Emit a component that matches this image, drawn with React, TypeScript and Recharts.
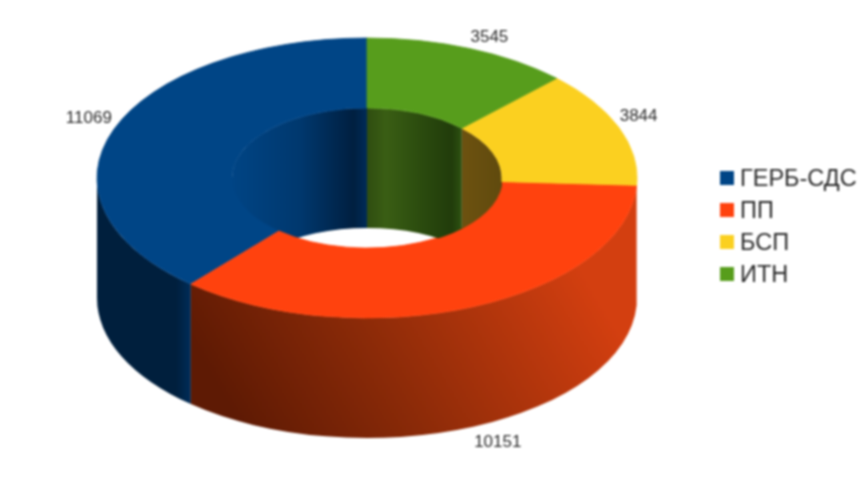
import React from "react";
import { PieChart, Pie, Legend } from "recharts";

const parties = ["ГЕРБ-СДС", "ПП", "БСП", "ИТН"];
const votes = [11069, 10151, 3844, 3545];
const colors = ["#004586", "#ff420e", "#fbd020", "#579d1c"];

const data = parties.map((name, i) => ({ name, value: votes[i], fill: colors[i], index: i }));

const SQUASH = 140 / 270; // the flat disc is seen at an angle
const DEPTH = 120;

const overlap = (a: number, b: number, from: number, to: number) => {
  const s = Math.max(a, from);
  const e = Math.min(b, to);
  return e > s ? [s, e] : null;
};

const Sector3D = (props: any) => {
  const { cx, cy, innerRadius, outerRadius, startAngle, endAngle, fill, index } = props;
  const pt = (r: number, deg: number, dy = 0) => {
    const rad = (deg * Math.PI) / 180;
    return `${cx + r * Math.cos(rad)} ${cy - r * SQUASH * Math.sin(rad) + dy}`;
  };
  const wall = (r: number, a: number, b: number) => {
    const large = b - a > 180 ? 1 : 0;
    const ry = r * SQUASH;
    return `M${pt(r, a)} A${r} ${ry} 0 ${large} 0 ${pt(r, b)} L${pt(r, b, DEPTH)} A${r} ${ry} 0 ${large} 1 ${pt(r, a, DEPTH)} Z`;
  };
  const large = endAngle - startAngle > 180 ? 1 : 0;
  const top =
    `M${pt(outerRadius, startAngle)} A${outerRadius} ${outerRadius * SQUASH} 0 ${large} 0 ${pt(outerRadius, endAngle)} ` +
    `L${pt(innerRadius, endAngle)} A${innerRadius} ${innerRadius * SQUASH} 0 ${large} 1 ${pt(innerRadius, startAngle)} Z`;

  // outer wall shows on the front half, inner wall on the back half of the hole
  const outer = overlap(startAngle, endAngle, 180, 360);
  const inners = [overlap(startAngle, endAngle, 0, 180), overlap(startAngle, endAngle, 360, 540)].filter(Boolean) as number[][];

  return (
    <g>
      <clipPath id={`hole-${index}`}>
        <ellipse cx={cx} cy={cy} rx={innerRadius + 1} ry={innerRadius * SQUASH + 1} />
      </clipPath>
      {outer && <path d={wall(outerRadius, outer[0], outer[1])} fill={`url(#outer-${index})`} />}
      <g clipPath={`url(#hole-${index})`}>
        {inners.map((r) => (
          <path key={r[0]} d={wall(innerRadius, r[0], r[1])} fill={`url(#inner-${index})`} />
        ))}
      </g>
      {/* thin stroke closes the seams between faces */}
      <path d={top} fill={fill} stroke={fill} strokeWidth={0.8} />
    </g>
  );
};

const renderLabel = (props: any) => {
  const { cx, cy, midAngle, outerRadius, value } = props;
  const rad = (midAngle * Math.PI) / 180;
  const x = cx + outerRadius * Math.cos(rad);
  let y = cy - outerRadius * SQUASH * Math.sin(rad);
  y += Math.sin(rad) < 0 ? DEPTH + 20 : -6;
  return (
    <text x={x + (Math.cos(rad) > 0 ? 1 : -2)} y={y} fontSize={17} fill="#2a2a2a" textAnchor={Math.cos(rad) > 0 ? "start" : "end"}>
      {value}
    </text>
  );
};

const renderLegend = (props: any) => (
  <div>
    {props.payload.map((p: any) => (
      <div key={p.value} style={{ display: "flex", alignItems: "center", height: 32 }}>
        <span style={{ width: 14, height: 14, background: p.color, marginRight: 6 }} />
        <span style={{ fontSize: 23.5, color: "#2a2a2a", whiteSpace: "nowrap" }}>{p.value}</span>
      </div>
    ))}
  </div>
);

export default function App() {
  return (
    <div style={{ position: "absolute", left: 0, top: 0, width: 860, height: 480, filter: "blur(0.8px)", fontFamily: "'Liberation Sans', Arial, sans-serif" }}>
      <PieChart width={860} height={480} margin={{ top: 0, right: 0, bottom: 0, left: 0 }}>
        <defs>
          <linearGradient id="outer-0" gradientUnits="userSpaceOnUse" x1="97" y1="0" x2="190" y2="0">
            <stop offset="0" stopColor="#001f3d" />
            <stop offset="0.85" stopColor="#001f3d" />
            <stop offset="1" stopColor="#002c58" />
          </linearGradient>
          <linearGradient id="outer-1" gradientUnits="userSpaceOnUse" x1="250" y1="440" x2="570" y2="250">
            <stop offset="0" stopColor="#5e1a04" />
            <stop offset="0.4" stopColor="#8a2a08" />
            <stop offset="1" stopColor="#d33f10" />
          </linearGradient>
          <linearGradient id="inner-0" gradientUnits="userSpaceOnUse" x1="233" y1="0" x2="367" y2="0">
            <stop offset="0" stopColor="#004484" />
            <stop offset="0.5" stopColor="#00386e" />
            <stop offset="0.9" stopColor="#001f40" />
            <stop offset="1" stopColor="#002c58" />
          </linearGradient>
          <linearGradient id="inner-2" gradientUnits="userSpaceOnUse" x1="461" y1="0" x2="502" y2="0">
            <stop offset="0" stopColor="#6d5210" />
            <stop offset="1" stopColor="#604a0e" />
          </linearGradient>
          <linearGradient id="inner-3" gradientUnits="userSpaceOnUse" x1="367" y1="0" x2="461" y2="0">
            <stop offset="0" stopColor="#2f4d10" />
            <stop offset="0.2" stopColor="#3a5e14" />
            <stop offset="0.6" stopColor="#2a4a0e" />
            <stop offset="0.9" stopColor="#213c0b" />
            <stop offset="1" stopColor="#2c5010" />
          </linearGradient>
        </defs>
        <Pie
          data={data}
          dataKey="value"
          nameKey="name"
          cx={367}
          cy={178}
          innerRadius={135}
          outerRadius={270}
          startAngle={90}
          endAngle={450}
          paddingAngle={0}
          stroke="none"
          shape={Sector3D}
          label={renderLabel}
          labelLine={false}
          isAnimationActive={false}
        />
        <Legend
          layout="vertical"
          align="right"
          verticalAlign="top"
          content={renderLegend}
          itemSorter={null}
          wrapperStyle={{ left: 720, top: 162, width: 140 }}
        />
      </PieChart>
    </div>
  );
}
